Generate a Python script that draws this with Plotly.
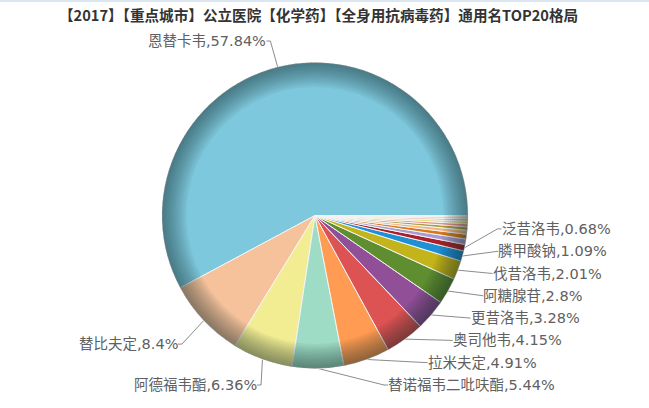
import numpy as np
import plotly.graph_objects as go

W, H = 649, 408

title = "【2017】【重点城市】公立医院【化学药】【全身用抗病毒药】通用名TOP20格局"

# top 20 generic names, share of sales (%); the last 9 carry no label in the chart
names = ["恩替卡韦", "替比夫定", "阿德福韦酯", "替诺福韦二吡呋酯", "拉米夫定",
         "奥司他韦", "更昔洛韦", "阿糖腺苷", "伐昔洛韦", "膦甲酸钠", "泛昔洛韦",
         "其他12", "其他13", "其他14", "其他15", "其他16",
         "其他17", "其他18", "其他19", "其他20"]
shares = [57.84, 8.4, 6.36, 5.44, 4.91, 4.15, 3.28, 2.8, 2.01, 1.09, 0.68,
          0.58, 0.5, 0.42, 0.36, 0.32, 0.28, 0.24, 0.2, 0.14]
n_labelled = 11

colors = ["#7ec8dd", "#f5c29b", "#f2ec93", "#9fdcc6", "#ff9b52", "#dd5252",
          "#914f97", "#5e8e30", "#c2b41a", "#1e90d6", "#a8202c", "#a99bd0",
          "#d9791e", "#f2b57f", "#a9a23a", "#ef8d8d", "#d9e36e", "#f4a7a7",
          "#f6c185", "#f3d9a4"]

# pie geometry in pixels
CX, CY, RAD = 315, 215.5, 153
LD = 183          # radius of the label circle
STEP = 22.3       # label row height
Y_MIN, Y_MAX = 40, 385

frac = np.array(shares) / sum(shares)
mids = np.radians((np.cumsum(frac) - frac / 2) * 360)   # ccw from east
# plotly ccw mode: rotation is the border between slice 0 and slice 1
rot = 90 - 360 * frac[0]


def get_x(y, left):
    s = np.clip((y - CY) / LD, -1, 1)
    return CX + (-1 if left else 1) * np.cos(np.arcsin(s)) * LD


# natural label rows, then push them apart
nat_y = CY - LD * np.sin(mids) + 3
lab_y = {}
for left in (False, True):
    idx = [i for i in range(n_labelled) if (np.cos(mids[i]) < 0) == left]
    idx.sort(key=lambda i: nat_y[i])
    prev = Y_MAX + STEP
    for i in reversed(idx):
        lab_y[i] = min(nat_y[i], prev - STEP)
        prev = lab_y[i]
    prev = Y_MIN - STEP
    for i in idx:
        lab_y[i] = max(lab_y[i], prev + STEP)
        prev = lab_y[i]

fig = go.Figure()

# connectors on a pixel-sized hidden axis
cx_line, cy_line = [], []
annotations = []
for i in range(n_labelled):
    left = np.cos(mids[i]) < 0
    sgn = -1 if left else 1
    y = lab_y[i]
    if abs(y - nat_y[i]) < 0.5:
        bx = CX + LD * np.cos(mids[i])          # label kept its own spot
    elif y >= Y_MAX - 0.5 and abs(nat_y[i] - CY) < LD:
        bx = get_x(nat_y[i], left)
    else:
        bx = get_x(y, left)
    ex = CX + RAD * np.cos(mids[i])
    ey = CY - RAD * np.sin(mids[i])
    cx_line += [ex, bx, bx + sgn * 4, None]
    cy_line += [ey, y, y, None]
    annotations.append(dict(
        x=bx + sgn * 2, y=y, xref="x", yref="y",
        text=f"{names[i]},{shares[i]:g}%", showarrow=False,
        xanchor="right" if left else "left", yanchor="middle",
        font=dict(family="DejaVu Sans, Noto Sans CJK SC", size=14.5, color="#606060")))

fig.add_trace(go.Scatter(x=cx_line, y=cy_line, mode="lines",
                         line=dict(color="#8c8c8c", width=1),
                         hoverinfo="skip", showlegend=False))

dom = dict(x=[(CX - RAD) / W, (CX + RAD) / W],
           y=[1 - (CY + RAD) / H, 1 - (CY - RAD) / H])

fig.add_trace(go.Pie(labels=names, values=shares, sort=False,
                     direction="counterclockwise", rotation=rot,
                     marker=dict(colors=colors, line=dict(color="#f4f4f4", width=1)),
                     textinfo="none", hoverinfo="label+percent",
                     domain=dom, showlegend=False))

# darker rim, like the radial gradient of the original
rim = np.linspace(0.84, 0.995, 12)
for hole in rim:
    fig.add_trace(go.Pie(labels=names, values=shares, sort=False,
                         direction="counterclockwise", rotation=rot, hole=hole,
                         marker=dict(colors=["rgba(15,30,40,0.05)"] * len(shares),
                                     line=dict(width=0)),
                         textinfo="none", hoverinfo="skip",
                         domain=dom, showlegend=False))

annotations.append(dict(
    x=0.49, y=1 - 15 / H, xref="paper", yref="paper", text=f"<b>{title}</b>",
    showarrow=False, xanchor="center", yanchor="middle",
    font=dict(family="Noto Sans CJK SC", size=14.6, color="#333333")))

fig.update_layout(
    width=W, height=H,
    margin=dict(l=0, r=0, t=0, b=0),
    paper_bgcolor="white", plot_bgcolor="white",
    xaxis=dict(range=[0, W], visible=False, fixedrange=True),
    yaxis=dict(range=[H, 0], visible=False, fixedrange=True),
    annotations=annotations,
    shapes=[dict(type="line", xref="paper", yref="paper", x0=0, x1=1,
                 y0=1 - 1 / H, y1=1 - 1 / H, line=dict(color="#dbe6f3", width=2))],
)

fig.write_html("out.html", config={"displayModeBar": False},
               post_script="document.body.style.margin='0';")
